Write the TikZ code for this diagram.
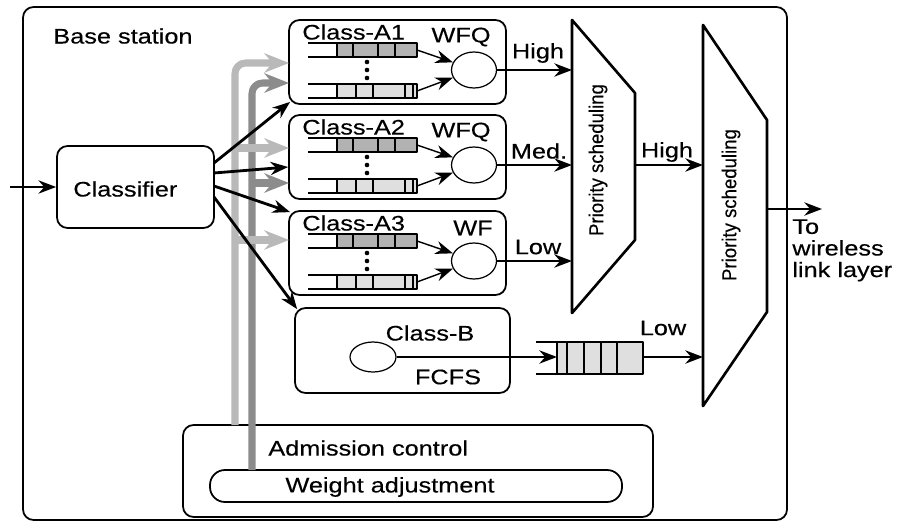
\documentclass[tikz,border=0pt]{standalone}
\usepackage{fontspec}
\setmainfont[FakeStretch=1.2,FakeBold=0.3]{Liberation Sans}
\newfontfamily\condfont[FakeStretch=0.92,FakeBold=0.3]{Liberation Sans}
\usetikzlibrary{arrows.meta,fit,shapes.geometric}

\begin{document}
\begin{tikzpicture}[x=0.02cm, y=-0.02cm, font=\fontsize{12}{13}\selectfont, line join=round,
		>={Stealth[length=10pt,width=7.5pt]},
		box/.style={draw, line width=1pt, rounded corners=6pt},
		pill/.style={draw, line width=1pt, rounded corners=8.5pt},
		server/.style={draw, ellipse, line width=0.7pt, minimum width=0.9cm, minimum height=0.72cm},
		flow/.style={->, line width=1.6pt},
		fb/.style={line width=4pt, rounded corners=6pt, -{Stealth[length=14pt,width=11pt]}},
		lfb/.style={fb, draw=gray!55},
		dfb/.style={fb, draw=gray!90},
		qline/.style={line width=1.1pt},
		trap/.style={line width=1.5pt}]
	\tikzset{every node/.style={inner sep=0pt}}
	\useasboundingbox (0,0) rectangle (898,523);
	
	\node[box, fit={(23,7) (787,520)}] (bs) {};
	\node[anchor=west] (bslbl) at (53,36) {Base station};
	\node[box, fit={(57,146) (214,228)}] (cls) {};
	\node[anchor=west] (clslbl) at (73,189) {Classifier};
	
	% class-A boxes with their queues
	\foreach \nm/\ty/\lbl/\sch/\sx in {A1/20/Class-A1/WFQ/461, A2/115/Class-A2/WFQ/461, A3/211/Class-A3/WF/473} {
		\node[box, fit={(289,\ty) (506,{\ty+84})}] (\nm) {};
		\node[anchor=west] (\nm lbl) at (302,{\ty+12}) {\lbl};
		\node (\nm sch) at (\sx,{\ty+17}) {\sch};
		\fill[gray!60] (337,{\ty+23}) rectangle (417,{\ty+37});
		\fill[gray!25] (337,{\ty+64}) rectangle (417,{\ty+78});
		\draw[qline] (308,{\ty+23}) -- (417,{\ty+23}) -- (417,{\ty+37}) -- (308,{\ty+37});
		\draw[qline] (308,{\ty+64}) -- (417,{\ty+64}) -- (417,{\ty+78}) -- (308,{\ty+78});
		\foreach \d in {337,353,378,395} \draw[qline] (\d,{\ty+23}) -- (\d,{\ty+37});
		\foreach \d in {337,356,373,405,413} \draw[qline] (\d,{\ty+64}) -- (\d,{\ty+78});
		\foreach \d in {42,50,58} \fill (367,{\ty+\d}) circle (2.3);
		\node[server] (s\nm) at (474,{\ty+50}) {};
		\coordinate (qt\nm) at (417,{\ty+30});
		\coordinate (qb\nm) at (417,{\ty+71});
		\draw[->, line width=0.8pt] (qt\nm) -- (s\nm.160);
		\draw[->, line width=0.8pt] (qb\nm) -- (s\nm.200);
	}
	
	% class-B
	\node[box, fit={(295,308) (510,393)}] (B) {};
	\node (Blbl) at (430,333) {Class-B};
	\node (fcfs) at (448,377) {FCFS};
	\node[server, minimum width=0.92cm, minimum height=0.6cm] (sB) at (373,357) {};
	\coordinate (qBin) at (557,357);
	\coordinate (qBout) at (643,357);
	\fill[gray!25] (557,342) rectangle (643,374);
	\draw[qline] (536,342) -- (643,342) -- (643,374) -- (536,374);
	\foreach \d in {557,567,584,601,617} \draw[qline] (\d,342) -- (\d,374);
	
	% admission control
	\node[box, fit={(183,425) (653,517)}] (adm) {};
	\node[anchor=west] (admlbl) at (268,448) {Admission control};
	\node[pill, fit={(210,470) (622,502)}] (wadj) {};
	\node (wlbl) at (390,487) {Weight adjustment};
	
	% priority schedulers
	\path 
	(572,20) coordinate (t1a)
	(635,93) coordinate (t1b)
	(635,240) coordinate (t1c)
	(572,313) coordinate (t1d)
	(703,25) coordinate (t2a)
	(767,120) coordinate (t2b)
	(767,312) coordinate (t2c)
	(703,406) coordinate (t2d)
	;
	\draw[trap] (t1a)--(t1b)--(t1c)--(t1d)--cycle;
	\draw[trap] (t2a)--(t2b)--(t2c)--(t2d)--cycle;
	\node[rotate=90, font=\condfont\fontsize{11.5}{12}\selectfont] (ps1) at (598,160) {Priority scheduling};
	\node[rotate=90, font=\condfont\fontsize{11.5}{12}\selectfont] (ps2) at (731,205) {Priority scheduling};
	
	% weight feedback
	\path (235,425) coordinate (l0) (252,470) coordinate (d0);
	\foreach \nm/\yy in {A1/63, A2/148, A3/240} \coordinate (l\nm) at (289,\yy);
	\foreach \nm/\yy in {A1/83, A2/183} \coordinate (d\nm) at (289,\yy);
	\draw[dfb] (d0) |- (dA1);
	\draw[dfb] (d0 |- dA2) -- (dA2);
	\draw[lfb] (l0) |- (lA1);
	\draw[lfb] (l0 |- lA2) -- (lA2);
	\draw[lfb] (l0 |- lA3) -- (lA3);
	
	% classifier outputs
	\path (10,187) coordinate (in)
	(214,163) coordinate (c1) (214,173) coordinate (c2)
	(214,186) coordinate (c3) (214,197) coordinate (c4);
	\draw[flow] (in) -- (in -| cls.west);
	\draw[flow] (c1) -- ([shift={(2,-3)}]A1.south west);
	\draw[flow] (c2) -- ([shift={(0,10)}]A2.west);
	\draw[flow] (c3) -- ([shift={(2,2)}]A3.north west);
	\draw[flow] (c4) -- ([shift={(3,2)}]B.north west);
	
	% scheduler inputs and outputs
	\draw[flow] (sA1.east) -- (sA1 -| t1a);
	\draw[flow] (sA2.east) -- (sA2 -| t1a);
	\draw[flow] (sA3.east) -- (sA3 -| t1a);
	\draw[flow] (sA2 -| t1b) -- (sA2 -| t2a);
	\draw[flow] (sB.east) -- (qBin);
	\draw[flow] (qBout) -- (qBout -| t2a);
	\coordinate (out) at (822,209);
	\draw[flow] (out -| t2b) -- (out);
	\node (hi1) at (538,53) {High};
	\node (med) at (539,151) {Med.};
	\node (lo1) at (538,247) {Low};
	\node (hi2) at (667,152) {High};
	\node (lo2) at (663,328) {Low};
	\node[anchor=north west, align=left, font=\fontsize{12}{12.3}\selectfont] (tolink) at (792,219) {To\\wireless\\link layer};
\end{tikzpicture}
\end{document}
